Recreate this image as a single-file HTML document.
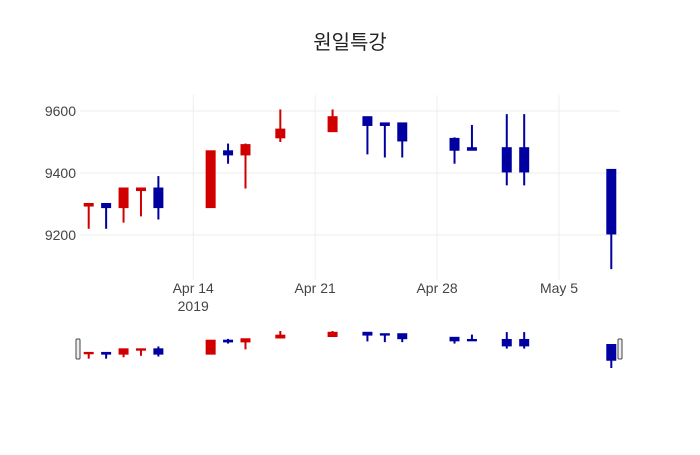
<!DOCTYPE html>
<html><head><meta charset="utf-8"><style>
body{margin:0;background:#fff;}
svg text{font-family:"Liberation Sans","Noto Sans CJK KR",sans-serif;fill:#444;}
</style></head><body>
<svg id="chart" width="700" height="450" xmlns="http://www.w3.org/2000/svg">
<text x="350" y="49" text-anchor="middle" font-size="20" style="fill:#222">원일특강</text>
<g id="grid"></g>
<g id="main"></g>
<g id="slider"></g>
</svg>
<script>
const dates=["2019-04-08","2019-04-09","2019-04-10","2019-04-11","2019-04-12","2019-04-15","2019-04-16","2019-04-17","2019-04-19","2019-04-22","2019-04-24","2019-04-25","2019-04-26","2019-04-29","2019-04-30","2019-05-02","2019-05-03","2019-05-08"];
const openV=[9295,9300,9290,9345,9350,9290,9470,9460,9515,9535,9580,9560,9560,9510,9480,9480,9480,9410];
const highV=[9300,9300,9350,9350,9390,9470,9495,9495,9605,9605,9580,9560,9560,9515,9555,9590,9590,9410];
const lowV=[9220,9220,9240,9260,9250,9290,9430,9350,9500,9535,9460,9450,9450,9430,9475,9360,9360,9090];
const closeV=[9300,9290,9350,9350,9290,9470,9460,9490,9540,9580,9555,9555,9505,9475,9475,9405,9405,9205];
const yTicks=[9200,9400,9600];
const xTicks=[["2019-04-14","Apr 14","2019"],["2019-04-21","Apr 21",""],["2019-04-28","Apr 28",""],["2019-05-05","May 5",""]];

const NS="http://www.w3.org/2000/svg";
const day=86400000;
const x0=Date.parse("2019-04-07T12:00:00Z"), x1=Date.parse("2019-05-08T12:00:00Z");
const L=80,R=620;
function X(d){return L+(Date.parse(d+"T00:00:00Z")-x0)/(x1-x0)*(R-L);}
function Y(v){return 111+(9600-v)*0.31;}
const sMin=Math.min(...lowV), sMax=Math.max(...highV);
function SY(v){return 368-(v-sMin)/(sMax-sMin)*37;}
function mk(tag,attrs,parent){const e=document.createElementNS(NS,tag);for(const k in attrs)e.setAttribute(k,attrs[k]);parent.appendChild(e);return e;}
const grid=document.getElementById('grid'),main=document.getElementById('main'),sl=document.getElementById('slider');
yTicks.forEach(v=>{
  const l=mk('line',{x1:L,x2:R,y1:Y(v),y2:Y(v),stroke:'#eee','stroke-width':1},grid);
  
  
  const t=mk('text',{x:L-4,y:Y(v)+5,'text-anchor':'end','font-size':14},grid);
  t.textContent=v;
  
  
});
xTicks.forEach(([d,a,b])=>{
  const x=X(d);
  const l=mk('line',{x1:x,x2:x,y1:95,y2:280,stroke:'#eee','stroke-width':1},grid);
  
  
  const t=mk('text',{x:x,y:293,'text-anchor':'middle','font-size':14},grid);
  t.textContent=a;
  
  
  if(b){const t2=mk('text',{x:x,y:311,'text-anchor':'middle','font-size':14},grid);t2.textContent=b;
  
  }
});
function candle(parent,i,yf,bw,lw,name){
  const x=X(dates[i]);const up=closeV[i]>=openV[i];const c=up?'#d00000':'#0000a0';
  const g=mk('g',{},parent);
  
  
  mk('line',{x1:x,x2:x,y1:yf(highV[i]),y2:yf(lowV[i]),stroke:c,'stroke-width':lw},g);
  const t=yf(Math.max(openV[i],closeV[i])),b=yf(Math.min(openV[i],closeV[i]));
  mk('rect',{x:x-bw/2,y:t-1,width:bw,height:Math.max(b-t,0)+2,fill:c},g);
}
dates.forEach((d,i)=>{candle(main,i,Y,10,2,'candle-'+d);candle(sl,i,SY,10,2,'slider-candle-'+d);});
[[78,'range-handle-left'],[620,'range-handle-right']].forEach(([x,n])=>{
  const h=mk('rect',{x:x-2,y:339,width:4,height:20,rx:1,fill:'#eee',stroke:'#444','stroke-width':1},sl);
  
  
});
</script>
</body></html>
